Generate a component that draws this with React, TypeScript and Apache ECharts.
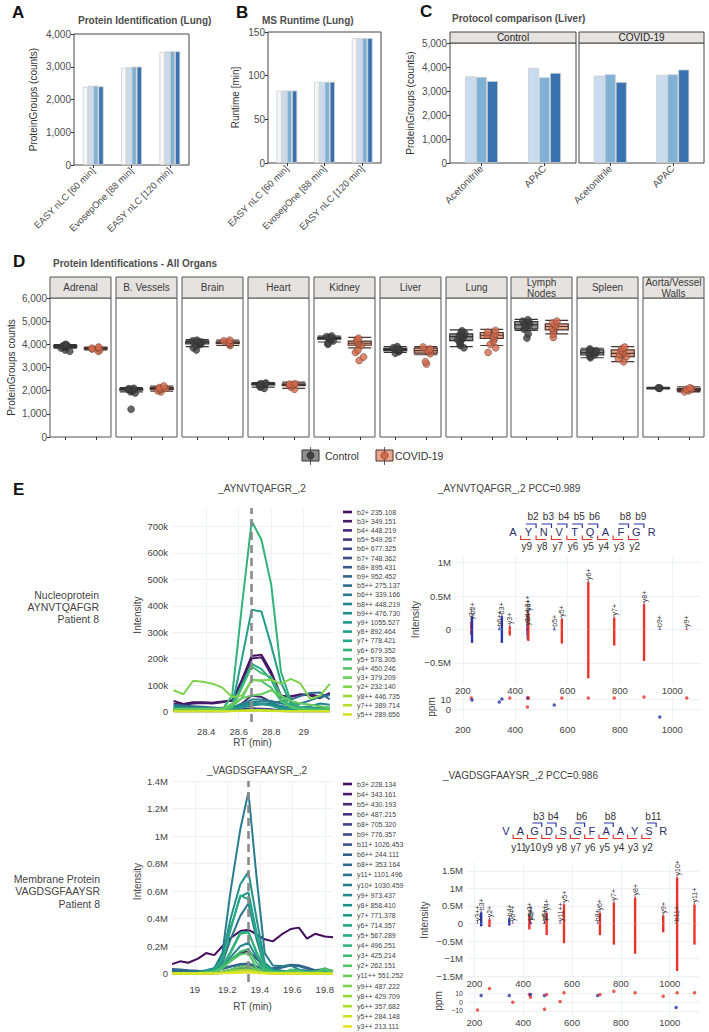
import React, { useEffect, useRef } from 'react';
import * as echarts from 'echarts';

const FONT = '"Liberation Sans", Arial, Helvetica, sans-serif';

// ---------- Panel A ----------
const lungMethods = ['EASY nLC [60 min]', 'EvosepOne [88 min]', 'EASY nLC [120 min]'];
const lungIdRep1 = [2392, 2972, 3450];
const lungIdRep2 = [2422, 2992, 3471];
const lungIdRep3 = [2422, 3003, 3471];
const lungIdRep4 = [2402, 3003, 3471];
// ---------- Panel B ----------
const runtimeRep1 = [83, 93, 143];
const runtimeRep2 = [83, 93, 143];
const runtimeRep3 = [83, 93, 143];
const runtimeRep4 = [83, 93, 143];
// ---------- Panel C ----------
const protocolCats = ['Acetonitrile', 'APAC'];
const liverCtrlRep1 = [3613, 3963];
const liverCtrlRep2 = [3585, 3571];
const liverCtrlRep3 = [3417, 3753];
const liverCovidRep1 = [3641, 3669];
const liverCovidRep2 = [3697, 3697];
const liverCovidRep3 = [3375, 3893];
// ---------- Panel D ----------
const organs = ['Adrenal', 'B. Vessels', 'Brain', 'Heart', 'Kidney', 'Liver', 'Lung', 'Lymph\nNodes', 'Spleen', 'Aorta/Vessel\nWalls'];
const groups = ['Control', 'COVID-19'];
const controlBoxes = [
  [3830, 3880, 3920, 3945, 3990], [1950, 2020, 2050, 2080, 2130], [3900, 4020, 4090, 4140, 4200],
  [2150, 2250, 2283, 2300, 2350], [4100, 4220, 4263, 4300, 4360], [3650, 3730, 3786, 3830, 3900],
  [3900, 4160, 4335, 4450, 4620], [4600, 4670, 4841, 4986, 5080], [3420, 3540, 3642, 3757, 3830],
  [2080, 2100, 2105, 2115, 2140],
];
const covidBoxes = [
  [3760, 3800, 3830, 3850, 3880], [1980, 2060, 2095, 2130, 2200], [3950, 4030, 4075, 4110, 4180],
  [2100, 2220, 2254, 2290, 2370], [3850, 3960, 4046, 4140, 4300], [3550, 3620, 3728, 3840, 3900],
  [3950, 4260, 4393, 4510, 4650], [4450, 4620, 4769, 4880, 5030], [3250, 3470, 3613, 3757, 3900],
  [1950, 2000, 2052, 2100, 2170],
];
const controlPoints = [
  [3700, 3760, 3840, 3880, 3900, 3910, 3920, 3930, 3950, 3970, 4000],
  [1200, 1900, 1950, 2000, 2030, 2050, 2060, 2080, 2100],
  [3760, 3850, 3950, 4000, 4050, 4080, 4100, 4120, 4150, 4180],
  [2100, 2150, 2200, 2250, 2270, 2290, 2300, 2330],
  [4000, 4050, 4150, 4200, 4240, 4270, 4300, 4330, 4360],
  [3620, 3680, 3730, 3760, 3790, 3810, 3850, 3900],
  [3850, 3950, 4050, 4120, 4200, 4250, 4300, 4340, 4380, 4420, 4470, 4520, 4580],
  [4270, 4450, 4650, 4750, 4850, 4900, 4950, 5000, 5060],
  [3420, 3480, 3550, 3600, 3640, 3680, 3720, 3760, 3800],
  [2100, 2110, 2120],
];
const covidPoints = [
  [3700, 3750, 3800, 3830, 3850, 3880],
  [1950, 2000, 2060, 2090, 2100, 2130, 2200],
  [3950, 4000, 4050, 4080, 4100, 4150, 4180],
  [2060, 2150, 2220, 2250, 2280, 2300],
  [3300, 3450, 3650, 3750, 3950, 4000, 4060, 4130, 4200, 4260],
  [3150, 3250, 3600, 3700, 3750, 3800, 3880],
  [3650, 3850, 4000, 4150, 4250, 4350, 4400, 4450, 4520, 4600],
  [4300, 4450, 4600, 4700, 4780, 4850, 4920, 5000],
  [3250, 3380, 3470, 3550, 3620, 3680, 3740, 3820, 3880],
  [1950, 2000, 2050, 2080, 2120],
];
// ---------- Panel E: XIC (intensity in thousands) ----------
const xicTopRT = [28.20, 28.26, 28.32, 28.38, 28.44, 28.50, 28.56, 28.62, 28.68, 28.74, 28.80, 28.86, 28.92, 28.98, 29.04, 29.10, 29.16];
const xicTopNames = ['b2+ 235.108', 'b3+ 349.151', 'b4+ 448.219', 'b5+ 549.267', 'b6+ 677.325', 'b7+ 748.362', 'b8+ 895.431', 'b9+ 952.452', 'b5++ 275.137', 'b6++ 339.166', 'b8++ 448.219', 'b9++ 476.730', 'y9+ 1055.527', 'y8+ 892.464', 'y7+ 778.421', 'y6+ 679.352', 'y5+ 578.305', 'y4+ 450.246', 'y3+ 379.209', 'y2+ 232.140', 'y8++ 446.735', 'y7++ 389.714', 'y5++ 289.656'];
const xicTopValues = [
  [40, 28, 35, 35, 33, 38, 40, 120, 210, 215, 150, 60, 55, 65, 60, 50, 70],
  [30, 25, 30, 32, 30, 35, 42, 110, 200, 205, 140, 55, 58, 62, 66, 55, 62],
  [8, 8, 8, 8, 8, 8, 12, 30, 60, 55, 35, 12, 8, 8, 8, 8, 8],
  [3, 3, 3, 3, 3, 3, 5, 8, 12, 10, 8, 4, 3, 3, 3, 3, 3],
  [2, 2, 2, 2, 2, 2, 3, 5, 8, 7, 5, 3, 2, 2, 2, 2, 2],
  [1, 1, 1, 1, 1, 1, 2, 3, 5, 4, 3, 2, 1, 1, 1, 1, 1],
  [10, 12, 10, 10, 12, 10, 15, 20, 25, 28, 25, 20, 15, 12, 10, 12, 10],
  [2, 2, 2, 2, 2, 2, 3, 4, 6, 5, 4, 3, 2, 2, 2, 2, 2],
  [25, 22, 20, 18, 15, 12, 10, 15, 22, 28, 32, 38, 45, 58, 70, 72, 45],
  [20, 18, 15, 15, 12, 12, 15, 25, 35, 38, 40, 30, 25, 30, 42, 55, 62],
  [15, 15, 12, 12, 12, 10, 15, 28, 45, 45, 35, 20, 15, 15, 20, 30, 25],
  [10, 10, 10, 8, 8, 8, 10, 20, 30, 30, 25, 15, 10, 10, 12, 15, 15],
  [5, 5, 5, 5, 5, 5, 10, 15, 25, 28, 22, 10, 5, 5, 5, 5, 5],
  [10, 8, 8, 8, 8, 8, 20, 200, 385, 378, 250, 110, 30, 15, 10, 10, 10],
  [5, 5, 5, 5, 5, 5, 15, 100, 180, 160, 120, 45, 15, 10, 8, 8, 8],
  [8, 8, 8, 8, 8, 8, 60, 400, 720, 650, 480, 150, 40, 15, 10, 10, 10],
  [5, 5, 5, 5, 5, 5, 15, 90, 170, 145, 130, 60, 20, 10, 8, 8, 8],
  [3, 3, 3, 3, 3, 5, 20, 50, 120, 115, 90, 40, 15, 8, 5, 5, 5],
  [10, 10, 10, 10, 10, 10, 30, 50, 60, 65, 80, 60, 40, 30, 25, 20, 15],
  [80, 65, 116, 112, 105, 90, 55, 60, 118, 118, 120, 104, 123, 106, 47, 60, 104],
  [2, 2, 2, 2, 2, 2, 3, 4, 5, 5, 4, 3, 2, 2, 2, 2, 2],
  [1, 1, 1, 1, 1, 1, 2, 3, 4, 4, 3, 2, 1, 1, 1, 1, 1],
  [1, 1, 1, 1, 1, 1, 1, 2, 3, 3, 2, 1, 1, 1, 1, 1, 1],
];
const xicTopApex = 28.68;
const xicBotRT = [18.86, 18.91, 18.96, 19.02, 19.07, 19.12, 19.17, 19.22, 19.28, 19.33, 19.38, 19.43, 19.48, 19.54, 19.59, 19.64, 19.69, 19.74, 19.80, 19.85];
const xicBotNames = ['b3+ 228.134', 'b4+ 343.161', 'b5+ 430.193', 'b6+ 487.215', 'b8+ 705.320', 'b9+ 776.357', 'b11+ 1026.453', 'b6++ 244.111', 'b8++ 353.164', 'y11+ 1101.496', 'y10+ 1030.459', 'y9+ 973.437', 'y8+ 858.410', 'y7+ 771.378', 'y6+ 714.357', 'y5+ 567.289', 'y4+ 496.251', 'y3+ 425.214', 'y2+ 262.151', 'y11++ 551.252', 'y9++ 487.222', 'y8++ 429.709', 'y6++ 357.682', 'y5++ 284.148', 'y3++ 213.111'];
const xicBotValues = [
  [70, 90, 80, 110, 150, 135, 200, 260, 310, 320, 285, 250, 235, 290, 325, 335, 255, 290, 270, 265],
  [20, 15, 12, 12, 15, 20, 45, 95, 150, 165, 110, 50, 30, 20, 15, 20, 10, 8, 8, 10],
  [5, 5, 5, 5, 5, 8, 15, 30, 50, 55, 35, 15, 8, 5, 5, 5, 5, 5, 5, 5],
  [4, 4, 4, 4, 4, 6, 10, 20, 35, 40, 25, 10, 6, 4, 4, 4, 4, 4, 4, 4],
  [3, 3, 3, 3, 3, 5, 8, 15, 25, 28, 18, 8, 5, 3, 3, 3, 3, 3, 3, 3],
  [3, 3, 3, 3, 3, 4, 6, 10, 18, 20, 12, 6, 4, 3, 3, 3, 3, 3, 3, 3],
  [2, 2, 2, 2, 2, 3, 5, 8, 12, 14, 9, 5, 3, 2, 2, 2, 2, 2, 2, 2],
  [35, 30, 25, 22, 20, 25, 40, 55, 70, 75, 55, 45, 40, 55, 65, 62, 45, 25, 35, 20],
  [25, 25, 20, 18, 18, 22, 35, 50, 65, 70, 50, 35, 30, 45, 60, 55, 35, 20, 25, 15],
  [5, 5, 5, 8, 12, 25, 80, 250, 420, 510, 250, 50, 20, 15, 15, 10, 8, 8, 5, 5],
  [10, 10, 10, 15, 25, 40, 150, 600, 1050, 1320, 700, 150, 60, 55, 60, 30, 20, 15, 10, 10],
  [3, 3, 3, 5, 8, 15, 50, 120, 200, 225, 120, 30, 12, 8, 8, 6, 5, 5, 5, 3],
  [8, 8, 8, 10, 20, 40, 120, 400, 650, 740, 400, 80, 30, 20, 20, 15, 10, 10, 10, 8],
  [5, 5, 5, 8, 15, 30, 100, 330, 560, 590, 300, 60, 25, 15, 15, 10, 8, 8, 8, 5],
  [3, 3, 3, 5, 10, 20, 60, 160, 300, 305, 150, 40, 15, 10, 10, 8, 5, 5, 5, 3],
  [5, 5, 5, 8, 15, 30, 100, 320, 570, 540, 280, 60, 20, 15, 10, 10, 8, 8, 5, 5],
  [3, 3, 3, 5, 10, 20, 55, 150, 290, 300, 160, 40, 15, 10, 15, 10, 5, 20, 10, 5],
  [3, 3, 3, 5, 8, 15, 40, 100, 160, 180, 80, 25, 15, 10, 30, 25, 10, 10, 40, 15],
  [3, 3, 3, 5, 10, 15, 40, 90, 140, 150, 40, 10, 10, 10, 20, 15, 10, 10, 30, 10],
  [2, 2, 2, 3, 5, 8, 15, 30, 50, 55, 30, 10, 5, 3, 3, 3, 2, 2, 2, 2],
  [2, 2, 2, 2, 3, 5, 10, 20, 30, 35, 20, 8, 4, 3, 3, 2, 2, 2, 2, 2],
  [2, 2, 2, 2, 3, 5, 8, 15, 25, 28, 15, 6, 3, 2, 2, 2, 2, 2, 2, 2],
  [1, 1, 1, 2, 2, 3, 6, 10, 18, 20, 12, 5, 3, 2, 2, 2, 1, 1, 1, 1],
  [1, 1, 1, 1, 2, 3, 5, 8, 12, 14, 8, 4, 2, 1, 1, 1, 1, 1, 1, 1],
  [1, 1, 1, 1, 1, 2, 3, 5, 8, 10, 6, 3, 2, 1, 1, 1, 1, 1, 1, 1],
];
const xicBotApex = 19.33;
// ---------- Panel E: mirror spectra ----------
const specTopIons = ['y2+', 'b2+', 'b6++', 'b3+', 'y3+', 'y8++', 'b4+', 'b8++', 'y4+', 'b5+', 'y5+', 'y6+', 'y7+', 'y8+', 'b9+', 'y9+'];
const specTopMz = [232.14, 235.108, 339.166, 349.151, 379.209, 446.735, 448.219, 448.219, 450.246, 549.267, 578.305, 679.352, 778.421, 892.464, 952.452, 1055.527];
const specTopExp = [120000, 200000, 15000, 200000, 50000, 30000, 100000, 240000, 250000, 12000, 160000, 710000, 180000, 380000, 8000, 8000];
const specTopPred = [-80000, -200000, -10000, -200000, -90000, -20000, -80000, -150000, -170000, -10000, -210000, -730000, -240000, -470000, -5000, -5000];
const specTopPpm = [11, 9, 7, 10, 11, 2, 11, 11, 11, 4, 11, 11, 11, 12, -8, 11];
const specBotIons = ['y3++', 'b3+', 'y2+', 'b4+', 'y6++', 'y3+', 'y8++', 'b5+', 'b6+', 'y9++', 'y4+', 'y11++', 'y5+', 'b8+', 'y6+', 'y7+', 'y8+', 'y9+', 'b11+', 'y10+', 'y11+'];
const specBotMz = [213.111, 228.134, 262.151, 343.161, 357.682, 425.214, 429.709, 430.193, 487.215, 487.222, 496.251, 551.252, 567.289, 705.32, 714.357, 771.378, 858.41, 973.437, 1026.453, 1030.459, 1101.496];
const specBotExp = [8000, 320000, 120000, 150000, 10000, 220000, 20000, 30000, 20000, 20000, 310000, 10000, 550000, 10000, 310000, 600000, 740000, 230000, 10000, 1310000, 540000];
const specBotPred = [-5000, -80000, -100000, -60000, -5000, -170000, -10000, -20000, -10000, -10000, -330000, -5000, -560000, -5000, -330000, -600000, -860000, -250000, -5000, -1350000, -600000];
const specBotPpm = [-9, 8, 16, 8, 0, 9, 6, 9, 8, -8, 9, 1, 11, 8, 9, 13, 11, 7, -6, 11, 11];
const ppmBotTicks = [-10, 0, 10];
const topPeptide = 'AYNVTQAFGR';
const topBIons = [2, 3, 4, 5, 6, 8, 9];
const topYIons = [9, 8, 7, 6, 5, 4, 3, 2];
const botPeptide = 'VAGDSGFAAYSR';
const botBIons = [3, 4, 6, 8, 11];
const botYIons = [11, 10, 9, 8, 7, 6, 5, 4, 3, 2];

// ---------- styling helpers ----------
const VIRIDIS = ['#440154', '#482475', '#414487', '#355f8d', '#2a788e', '#21918c', '#22a884', '#44bf70', '#7ad151', '#bddf26', '#fde725'];
function viridis(t: number) {
  const p = Math.max(0, Math.min(1, t)) * 10;
  const i = Math.min(9, Math.floor(p));
  const f = p - i;
  const a = VIRIDIS[i], b = VIRIDIS[i + 1];
  const c = [1, 3, 5].map((k) => {
    const va = parseInt(a.slice(k, k + 2), 16), vb = parseInt(b.slice(k, k + 2), 16);
    return Math.round(va + (vb - va) * f).toString(16).padStart(2, '0');
  });
  return '#' + c.join('');
}
const BLUE = '#2b35a8';
const RED = '#e8332a';
const TICKC = '#4d4d4d';

function T(x: number, y: number, text: string, size: number, o: any = {}) {
  return {
    type: 'text', x, y, silent: true, z: 100,
    style: {
      text, fill: o.fill || '#444',
      fontSize: size, fontWeight: o.bold ? 'bold' : 'normal', fontFamily: FONT,
      align: o.align || 'left', verticalAlign: o.va || 'middle',
      lineHeight: o.lh,
    },
  };
}
function R(x: number, y: number, w: number, h: number, fill: string, stroke: string) {
  return { type: 'rect', silent: true, z: 90, shape: { x, y, width: w, height: h }, style: { fill, stroke, lineWidth: 1 } };
}
function PL(points: number[][], stroke: string, lw = 1.2) {
  return { type: 'polyline', silent: true, z: 100, shape: { points }, style: { stroke, lineWidth: lw, fill: 'none' } };
}
const fmtComma = (v: number) => v.toLocaleString('en-US');
const ppmFmt = (v: number) => (v < 0 ? `\u2212${-v}` : String(v));

function ggX(gridIndex: number, data: string[], o: any = {}) {
  return {
    gridIndex, type: 'category', data,
    axisLine: { show: false },
    axisTick: { show: true, alignWithLabel: true, length: 3, lineStyle: { color: '#333' } },
    axisLabel: { show: o.labels !== false, rotate: 45, fontSize: o.fs || 9.5, color: TICKC, margin: 4, interval: 0, fontFamily: FONT },
    splitLine: { show: false },
    ...(o.extra || {}),
  };
}
function ggY(gridIndex: number, min: number, max: number, interval: number, o: any = {}) {
  return {
    gridIndex, type: 'value', min, max, interval,
    axisLine: { show: false },
    axisTick: { show: o.labels !== false, length: 3, lineStyle: { color: '#333' } },
    axisLabel: { show: o.labels !== false, formatter: fmtComma, fontSize: 10, color: TICKC, margin: 3, fontFamily: FONT },
    splitLine: { show: false },
    name: o.name, nameLocation: 'middle', nameGap: o.nameGap || 36,
    nameTextStyle: { fontSize: 10, color: '#333', fontFamily: FONT },
  };
}
function plX(gridIndex: number, min: number, max: number, ticks: number[], o: any = {}) {
  return {
    gridIndex, type: 'value', min, max,
    axisLine: { show: false },
    axisTick: { show: false, customValues: ticks },
    axisLabel: {
      customValues: ticks, formatter: (v: number) => String(v), fontSize: 9.5, color: '#444',
      margin: o.margin ?? 4, fontFamily: FONT, hideOverlap: false,
    },
    splitLine: { show: true, lineStyle: { color: '#edf0f6', width: 1 } },
    name: o.name, nameLocation: 'middle', nameGap: o.nameGap || 15,
    nameTextStyle: { fontSize: 10, color: '#444', fontFamily: FONT },
  };
}
function plY(gridIndex: number, min: number, max: number, ticks: number[], fmt: any, o: any = {}) {
  return {
    gridIndex, type: 'value', min, max,
    axisLine: { show: false },
    axisTick: { show: false, customValues: ticks },
    axisLabel: {
      show: o.labels !== false,
      customValues: ticks, formatter: fmt, fontSize: o.fs || 9.5, color: '#444', margin: 4, fontFamily: FONT,
      hideOverlap: false,
    },
    splitLine: { show: true, lineStyle: { color: '#edf0f6', width: 1 } },
    name: o.name, nameLocation: 'middle', nameGap: o.nameGap || 30,
    nameTextStyle: { fontSize: 10, color: '#444', fontFamily: FONT },
  };
}

function buildOption() {
  const grids: any[] = [];
  const xAxes: any[] = [];
  const yAxes: any[] = [];
  const series: any[] = [];
  const graphics: any[] = [];
  const frame = (left: number, top: number, width: number, height: number, border = '#444') =>
    ({ left, top, width, height, show: true, borderColor: border, borderWidth: 1, backgroundColor: 'transparent', containLabel: false });
  const bare = (left: number, top: number, width: number, height: number) =>
    ({ left, top, width, height, show: false, containLabel: false });

  const repColors4 = ['#f5f7fa', '#c9dbee', '#7fb1d7', '#3a71b0'];
  const repColors3 = ['#c9dbee', '#7fb1d7', '#3a71b0'];
  const barSeries = (gi: number, data: number[], color: string, w: number) => ({
    type: 'bar', xAxisIndex: gi, yAxisIndex: gi, data, barWidth: w, barGap: '0%',
    itemStyle: { color, borderColor: '#cfcfcf', borderWidth: 0.8 }, silent: true,
  });

  // ---- A ----
  grids.push(frame(74, 34, 115, 131));
  xAxes.push(ggX(0, lungMethods));
  yAxes.push(ggY(0, 0, 4000, 1000, { name: 'ProteinGroups (counts)', nameGap: 36 }));
  [lungIdRep1, lungIdRep2, lungIdRep3, lungIdRep4].forEach((d, i) => series.push(barSeries(0, d, repColors4[i], 5.2)));
  // ---- B ----
  grids.push(frame(268, 32, 113, 131));
  xAxes.push(ggX(1, lungMethods));
  yAxes.push(ggY(1, 0, 150, 50, { name: 'Runtime [min]', nameGap: 28 }));
  [runtimeRep1, runtimeRep2, runtimeRep3, runtimeRep4].forEach((d, i) => series.push(barSeries(1, d, repColors4[i], 5.2)));
  // ---- C ----
  grids.push(frame(450, 43, 126, 120));
  grids.push(frame(579, 43, 125, 120));
  xAxes.push(ggX(2, protocolCats, { fs: 10 }));
  xAxes.push(ggX(3, protocolCats, { fs: 10 }));
  yAxes.push(ggY(2, 0, 5000, 1000, { name: 'ProteinGroups (counts)', nameGap: 35 }));
  yAxes.push(ggY(3, 0, 5000, 1000, { labels: false }));
  [liverCtrlRep1, liverCtrlRep2, liverCtrlRep3].forEach((d, i) => series.push(barSeries(2, d, repColors3[i], 11)));
  [liverCovidRep1, liverCovidRep2, liverCovidRep3].forEach((d, i) => series.push(barSeries(3, d, repColors3[i], 11)));

  // ---- D ----
  const facetLefts = [50, 116, 182, 248, 314, 380, 446, 511, 577, 643];
  organs.forEach((org, i) => {
    const gi = 4 + i;
    grids.push(frame(facetLefts[i], 298, 61, 139, '#555'));
    xAxes.push(ggX(gi, groups, { labels: false, extra: { jitter: 9, jitterOverlap: true } }));
    yAxes.push(ggY(gi, 0, 6000, 1000, i === 0 ? { name: 'ProteinGroups counts', nameGap: 34 } : { labels: false }));
    series.push({
      type: 'boxplot', xAxisIndex: gi, yAxisIndex: gi, boxWidth: [23, 23], silent: true,
      data: [
        { value: controlBoxes[i], itemStyle: { color: '#8f8f8f', borderColor: '#333', borderWidth: 1.2 } },
        { value: covidBoxes[i], itemStyle: { color: '#eaa58c', borderColor: '#4a3530', borderWidth: 1.2 } },
      ],
    });
    series.push({
      type: 'scatter', xAxisIndex: gi, yAxisIndex: gi, symbolSize: 7, silent: true, z: 5,
      data: controlPoints[i].map((v) => [groups[0], v]),
      itemStyle: { color: '#404040', borderColor: '#2a2a2a', borderWidth: 0.6 },
    });
    series.push({
      type: 'scatter', xAxisIndex: gi, yAxisIndex: gi, symbolSize: 7, silent: true, z: 5,
      data: covidPoints[i].map((v) => [groups[1], v]),
      itemStyle: { color: '#d4694a', borderColor: '#5a3a30', borderWidth: 0.6 },
    });
    graphics.push(R(facetLefts[i], 277, 61, 21, '#e5e2df', '#555'));
    graphics.push(T(facetLefts[i] + 30.5, 287.5, org, 10, { align: 'center', lh: 11, fill: '#3a3a3a' }));
  });

  // ---- E: XIC ----
  const kFmt = (v: number) => (v === 0 ? '0' : `${v}k`);
  const mFmt = (v: number) => (v === 0 ? '0' : `${+(v / 1000).toFixed(1)}M`);
  grids.push(bare(172, 508, 161, 214));
  xAxes.push(plX(14, 28.19, 29.18, [28.4, 28.6, 28.8, 29], { name: 'RT (min)', nameGap: 15, margin: 4 }));
  yAxes.push(plY(14, -40, 770, [0, 100, 200, 300, 400, 500, 600, 700], kFmt, { name: 'Intensity', nameGap: 30 }));
  grids.push(bare(172, 781, 161, 201));
  xAxes.push(plX(15, 18.86, 19.85, [19, 19.2, 19.4, 19.6, 19.8], { name: 'RT (min)', nameGap: 19, margin: 2 }));
  yAxes.push(plY(15, -60, 1400, [0, 200, 400, 600, 800, 1000, 1200, 1400], mFmt, { name: 'Intensity', nameGap: 30 }));

  const dashLine = (x: number) => ({
    silent: true, symbol: 'none', animation: false,
    lineStyle: { type: [8, 5], color: '#8a8a8a', width: 2.6 },
    label: { show: false }, data: [{ xAxis: x }],
  });
  xicTopNames.forEach((name, i) => {
    series.push({
      type: 'line', name, xAxisIndex: 14, yAxisIndex: 14, showSymbol: false, symbol: 'none', silent: true,
      data: xicTopRT.map((t, k) => [t, xicTopValues[i][k]]),
      lineStyle: { width: 2 }, color: viridis(0.03 + (0.9 * i) / (xicTopNames.length - 1)),
      z: 3, ...(i === 0 ? { markLine: dashLine(xicTopApex) } : {}),
    });
  });
  xicBotNames.forEach((name, i) => {
    series.push({
      type: 'line', name, xAxisIndex: 15, yAxisIndex: 15, showSymbol: false, symbol: 'none', silent: true,
      data: xicBotRT.map((t, k) => [t, xicBotValues[i][k]]),
      lineStyle: { width: 2 }, color: viridis(0.03 + (0.93 * i) / (xicBotNames.length - 1)),
      z: 3, ...(i === 0 ? { markLine: dashLine(xicBotApex) } : {}),
    });
  });

  // ---- E: mirror spectra ----
  const intFmt = (v: number) => {
    if (v === 0) return '0';
    const s = `${Math.abs(v) / 1e6}M`;
    return v < 0 ? `\u2212${s}` : s;
  };
  const ionColor = (n: string) => (n.startsWith('b') ? BLUE : RED);
  grids.push(bare(455, 556, 246, 127));
  xAxes.push(plX(16, 170, 1110, [200, 400, 600, 800, 1000], { margin: 2 }));
  yAxes.push(plY(16, -800000, 1100000, [-500000, 0, 500000, 1000000], intFmt, { name: 'Intensity', nameGap: 27 }));
  grids.push(bare(455, 693, 246, 28));
  xAxes.push(plX(17, 170, 1110, [200, 400, 600, 800, 1000], { margin: 3 }));
  yAxes.push(plY(17, -12, 16, [0, 10], (v: number) => String(v), { name: 'ppm', nameGap: 13 }));
  grids.push(bare(467, 862, 232, 116));
  xAxes.push(plX(18, 170, 1120, [200, 400, 600, 800, 1000], { margin: 0 }));
  yAxes.push(plY(18, -1550000, 1750000, [-1500000, -1000000, -500000, 0, 500000, 1000000, 1500000], intFmt, { name: 'Intensity', nameGap: 38 }));
  grids.push(bare(467, 986, 232, 30));
  xAxes.push(plX(19, 170, 1120, [200, 400, 600, 800, 1000], { margin: 1 }));
  yAxes.push(plY(19, -16, 19, ppmBotTicks, ppmFmt, { name: 'ppm', nameGap: 24, labels: false }));

  const mirror = (gi: number, ions: string[], mz: number[], exp: number[], pred: number[]) => {
    series.push({
      type: 'bar', xAxisIndex: gi, yAxisIndex: gi, barWidth: 2.4, barGap: '-100%', silent: true, z: 4,
      data: ions.map((n, k) => ({ name: n, value: [mz[k], exp[k]], itemStyle: { color: ionColor(n) } })),
      label: {
        show: true, position: 'top', rotate: 90, align: 'left', verticalAlign: 'middle', distance: 2,
        fontSize: 7, color: '#333', fontFamily: FONT, formatter: (p: any) => p.name,
      },
      labelLayout: { moveOverlap: 'shiftX' },
      labelLine: { show: true, lineStyle: { color: '#2a2f7a', width: 0.8 } },
    });
    series.push({
      type: 'bar', xAxisIndex: gi, yAxisIndex: gi, barWidth: 2.4, barGap: '-100%', silent: true, z: 4,
      data: ions.map((n, k) => ({ name: n, value: [mz[k], pred[k]], itemStyle: { color: ionColor(n) } })),
    });
  };
  const ppmDots = (gi: number, ions: string[], mz: number[], ppm: number[]) => {
    series.push({
      type: 'scatter', xAxisIndex: gi, yAxisIndex: gi, symbolSize: 3.5, silent: true,
      data: ions.map((n, k) => ({ value: [mz[k], ppm[k]], itemStyle: { color: ionColor(n) } })),
    });
  };
  mirror(16, specTopIons, specTopMz, specTopExp, specTopPred);
  ppmDots(17, specTopIons, specTopMz, specTopPpm);
  mirror(18, specBotIons, specBotMz, specBotExp, specBotPred);
  ppmDots(19, specBotIons, specBotMz, specBotPpm);

  // ---- peptide sequence annotations ----
  const sequence = (pep: string, bIons: number[], yIons: number[], x0: number, step: number, yL: number, bDy: number, yDy: number) => {
    const letters = pep.split('');
    const n = letters.length;
    const X = (k: number) => x0 + k * step;
    letters.forEach((c, k) => graphics.push(T(X(k), yL, c, 11, { align: 'center', fill: '#2b2f6a' })));
    bIons.forEach((i) => {
      const b = X(i - 1) + step / 2;
      graphics.push(PL([[X(i - 1) - step * 0.15, yL - 8], [b, yL - 8], [b, yL - 4]], BLUE));
      graphics.push(T(X(i - 1) + step * 0.3, yL - bDy, `b${i}`, 10, { align: 'center', fill: '#333' }));
    });
    yIons.forEach((j) => {
      const b = X(n - j) - step / 2;
      graphics.push(PL([[b, yL + 3.5], [b, yL + 7.5], [X(n - j) + step * 0.15, yL + 7.5]], RED));
      graphics.push(T(X(n - j) - step * 0.1, yL + yDy, `y${j}`, 10, { align: 'center', fill: '#333' }));
    });
  };
  sequence(topPeptide, topBIons, topYIons, 513, 15.4, 532, 15.5, 14);
  sequence(botPeptide, botBIons, botYIons, 506, 14.3, 831, 14.5, 16);

  // ---- titles, letters, strips, legends ----
  graphics.push(T(12, 12, 'A', 17, { bold: true, fill: '#111' }));
  graphics.push(T(236, 12, 'B', 17, { bold: true, fill: '#111' }));
  graphics.push(T(420, 11, 'C', 17, { bold: true, fill: '#111' }));
  graphics.push(T(13, 261, 'D', 17, { bold: true, fill: '#111' }));
  graphics.push(T(13, 489, 'E', 17, { bold: true, fill: '#111' }));
  graphics.push(T(78, 20, 'Protein Identification (Lung)', 10, { bold: true, fill: '#4d4d4d' }));
  graphics.push(T(262, 20, 'MS Runtime (Lung)', 10, { bold: true, fill: '#4d4d4d' }));
  graphics.push(T(452, 18, 'Protocol comparison (Liver)', 10, { bold: true, fill: '#4d4d4d' }));
  graphics.push(T(53, 263, 'Protein Identifications - All Organs', 10, { bold: true, fill: '#4d4d4d' }));
  graphics.push(R(450, 32, 126, 11, '#e5e2df', '#444'));
  graphics.push(R(579, 32, 125, 11, '#e5e2df', '#444'));
  graphics.push(T(513, 37.5, 'Control', 10, { align: 'center', fill: '#222' }));
  graphics.push(T(641.5, 37.5, 'COVID-19', 10, { align: 'center', fill: '#222' }));
  // D legend
  graphics.push({ type: 'line', silent: true, z: 95, shape: { x1: 310.5, y1: 447, x2: 310.5, y2: 465 }, style: { stroke: '#333', lineWidth: 0.8 } });
  graphics.push(R(302, 450, 17, 11, '#8f8f8f', '#333'));
  graphics.push({ type: 'circle', silent: true, z: 101, shape: { cx: 310.5, cy: 455.5, r: 3.6 }, style: { fill: '#404040', stroke: '#222', lineWidth: 0.6 } });
  graphics.push(T(325, 456, 'Control', 10.5, { fill: '#333' }));
  graphics.push({ type: 'line', silent: true, z: 95, shape: { x1: 384.5, y1: 447, x2: 384.5, y2: 465 }, style: { stroke: '#4a3530', lineWidth: 0.8 } });
  graphics.push(R(376, 450, 17, 11, '#eaa58c', '#4a3530'));
  graphics.push({ type: 'circle', silent: true, z: 101, shape: { cx: 384.5, cy: 455.5, r: 3.6 }, style: { fill: '#d4694a', stroke: '#5a3a30', lineWidth: 0.6 } });
  graphics.push(T(395, 456, 'COVID-19', 10.5, { fill: '#333' }));
  // E titles
  graphics.push(T(262, 488, '_AYNVTQAFGR_,2', 10, { align: 'center' }));
  graphics.push(T(257, 770, '_VAGDSGFAAYSR_,2', 10, { align: 'center' }));
  graphics.push(T(438, 488, '_AYNVTQAFGR_,2 PCC=0.989', 10));
  graphics.push(T(443, 775, '_VAGDSGFAAYSR_,2 PCC=0.986', 10));
  graphics.push(T(99, 607, 'Nucleoprotein\nAYNVTQAFGR\nPatient 8', 10.5, { align: 'right', lh: 12, fill: '#444' }));
  graphics.push(T(100, 891, 'Membrane Protein\nVAGDSGFAAYSR\nPatient 8', 10.5, { align: 'right', lh: 12.5, fill: '#444' }));

  const legendBase = {
    orient: 'vertical', icon: 'rect', itemWidth: 9, itemHeight: 2.6, selectedMode: false,
    textStyle: { fontSize: 7, color: '#444', fontFamily: FONT, lineHeight: 8 }, padding: 0,
  };
  return {
    animation: false,
    backgroundColor: '#fff',
    textStyle: { fontFamily: FONT },
    grid: grids,
    xAxis: xAxes,
    yAxis: yAxes,
    series,
    legend: [
      { ...legendBase, data: xicTopNames, left: 343, top: 508, itemGap: 1.2 },
      { ...legendBase, data: xicBotNames, left: 343, top: 780, itemGap: 2.1 },
    ],
    graphic: { elements: graphics },
  };
}

export default function App() {
  const ref = useRef<HTMLDivElement>(null);
  useEffect(() => {
    if (!ref.current) return;
    const chart = echarts.init(ref.current, undefined, { renderer: 'svg' });
    const option: any = buildOption();
    chart.setOption(option);
    // tight ppm tick labels (bottom spectrum): placed with the axis' own scale
    const extra = ppmBotTicks.map((v) => {
      const y = chart.convertToPixel({ yAxisIndex: 19 } as any, v) as number;
      return T(463, y, ppmFmt(v), 7, { align: 'right', fill: '#444', lh: 7 });
    });
    chart.setOption({ graphic: { elements: [...option.graphic.elements, ...extra] } } as any);
    return () => chart.dispose();
  }, []);
  return <div ref={ref} style={{ position: 'absolute', left: 0, top: 0, width: 709, height: 1032, background: '#fff' }} />;
}
